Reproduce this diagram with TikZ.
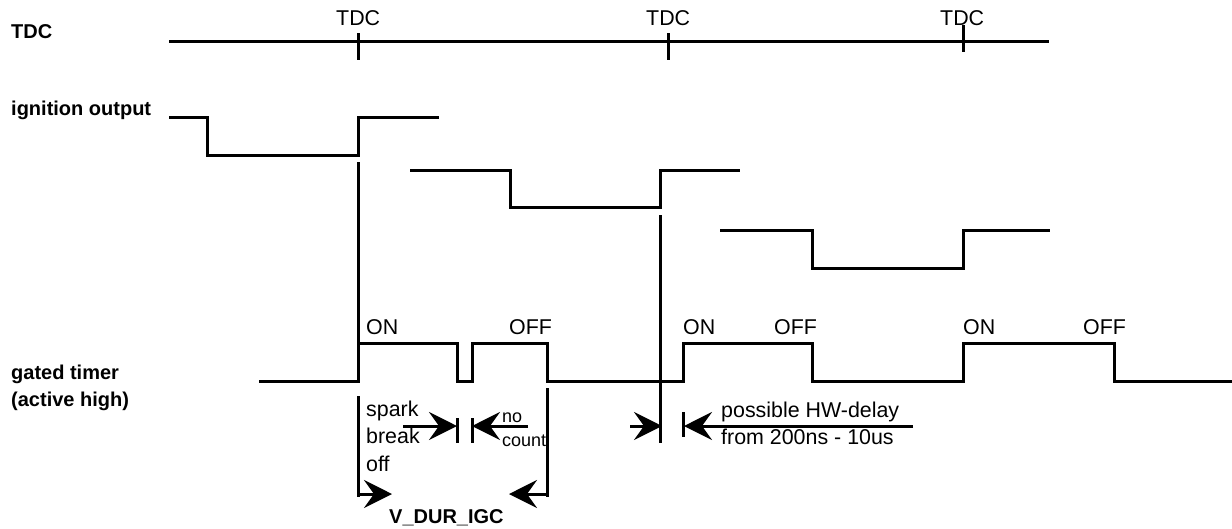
\documentclass[tikz,border=0pt]{standalone}
\usepackage{fontspec}
\setmainfont{Liberation Sans}
\usetikzlibrary{arrows.meta}
\begin{document}
\begin{tikzpicture}[
    x=1pt, y=-1pt,
    wave/.style={line width=3pt, line cap=rect},
    arr/.style={-{Stealth[length=28pt, width=28pt, inset=10pt]}, line width=3pt},
    lbl/.style={inner sep=0pt, anchor=base west, font=\fontsize{21.4}{24}\selectfont},
    head/.style={lbl, font=\fontsize{20}{24}\selectfont\bfseries},
    small/.style={lbl, font=\fontsize{18}{22}\selectfont}
]
\useasboundingbox (0,0) rectangle (1232,528);

\node[head] (tdclbl)  at (11, 38)   {TDC};
\node[head] (ignlbl)  at (11, 115)  {ignition output};
\node[head] (gatelbl) at (11, 379)  {gated timer};
\node[head] (activelbl) at (11, 406) {(active high)};

\node[lbl] (tdca) at (336, 25.5) {TDC};
\node[lbl] (tdcb) at (646, 25.5) {TDC};
\node[lbl] (tdcc) at (940, 25.5) {TDC};

\node[lbl] (ona)  at (366, 334) {ON};
\node[lbl] (offa) at (509, 334) {OFF};
\node[lbl] (onb)  at (683, 334) {ON};
\node[lbl] (offb) at (774, 334) {OFF};
\node[lbl] (onc)  at (963, 334) {ON};
\node[lbl] (offc) at (1083, 334) {OFF};

\node[lbl] (spark) at (366, 416) {spark};
\node[lbl] (break) at (366, 443) {break};
\node[lbl] (off)   at (366, 471) {off};
\node[small] (no)    at (502, 422) {no};
\node[small] (count) at (502, 446) {count};
\node[lbl] (hwa) at (721, 417) {possible HW-delay};
\node[lbl] (hwb) at (721, 444) {from 200ns - 10us};
\node[head] (dur) at (389, 523) {V\_DUR\_IGC};

% TDC line
\draw[wave, line cap=butt] (169,41) -- (1049,41);
\draw[wave, line cap=butt] (358,33) -- (358,60);
\draw[wave, line cap=butt] (668,33) -- (668,60);
\draw[wave, line cap=butt] (963,25) -- (963,52);

% ignition output
\draw[wave] (170,117) -- (207,117) (207,117) -- (207,155) (207,155) -- (358,155) (358,155) -- (358,117) (358,117) -- (437,117);
\draw[wave] (411,170) -- (510,170) (510,170) -- (510,207) (510,207) -- (660,207) (660,207) -- (660,170) (660,170) -- (738,170);
\draw[wave] (721,230) -- (812,230) (812,230) -- (812,268) (812,268) -- (963,268) (963,268) -- (963,230) (963,230) -- (1048,230);

% gated timer
\draw[wave] (260,381) -- (358,381) (358,381) -- (358,343) (358,343) -- (457,343) (457,343) -- (457,381) (457,381) -- (472,381) (472,381) -- (472,343) (472,343) -- (547,343) (547,343) -- (547,381) (547,381) -- (683,381) (683,381) -- (683,343) (683,343) -- (812,343) (812,343) -- (812,381) (812,381) -- (963,381) (963,381) -- (963,343) (963,343) -- (1114,343) (1114,343) -- (1114,381) (1114,381) -- (1232,381);

% markers
\draw[wave, line cap=butt] (358,162) -- (358,381);
\draw[wave, line cap=butt] (358,396) -- (358,497);
\draw[wave, line cap=butt] (547,388) -- (547,497);
\draw[wave, line cap=butt] (660,215) -- (660,443);
\draw[wave, line cap=butt] (457,418) -- (457,443);
\draw[wave, line cap=butt] (472,418) -- (472,443);
\draw[wave, line cap=butt] (683,412) -- (683,437);

\coordinate (sparkfrom) at (403,426);
\coordinate (sparkto)   at (457,426);
\coordinate (nofrom)    at (528,426);
\coordinate (noto)      at (472,426);
\coordinate (hwafrom)   at (630,426);
\coordinate (hwato)     at (662,426);
\coordinate (hwbfrom)   at (913,426);
\coordinate (hwbto)     at (684,426);
\coordinate (dura)      at (358,494);
\coordinate (duraend)   at (392,494);
\coordinate (durb)      at (547,494);
\coordinate (durbend)   at (509,494);

\draw[arr] (sparkfrom) -- (sparkto);
\draw[arr] (nofrom)    -- (noto);
\draw[arr] (hwafrom)   -- (hwato);
\draw[arr] (hwbfrom)   -- (hwbto);
\draw[arr] (dura)      -- (duraend);
\draw[arr] (durb)      -- (durbend);
\end{tikzpicture}
\end{document}
